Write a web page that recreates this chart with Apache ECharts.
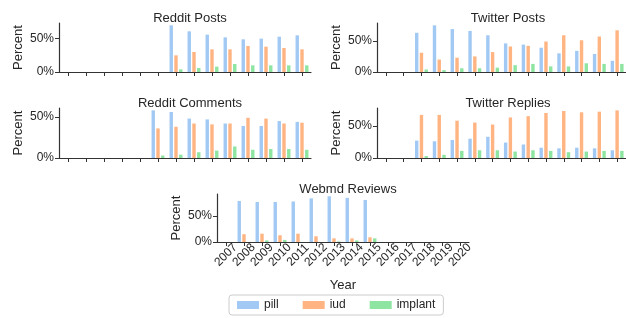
<!DOCTYPE html>
<html>
<head>
<meta charset="utf-8">
<script src="https://cdn.jsdelivr.net/npm/echarts@6/dist/echarts.min.js"></script>
<style>
  html, body { margin: 0; padding: 0; background: #fff; }
  #chart { width: 626px; height: 318px; }
</style>
</head>
<body>
<div id="chart"></div>
<script>
const years = ["2007", "2008", "2009", "2010", "2011", "2012", "2013", "2014", "2015", "2016", "2017", "2018", "2019", "2020"];
const methods = ["pill", "iud", "implant"];
const yTicks = [0, 50];

const redditPostsPill = [null, null, null, null, null, null, 70, 61, 56, 52, 49, 50, 53, 55];
const redditPostsIud = [null, null, null, null, null, null, 25, 30, 34, 34, 39, 38, 36, 34];
const redditPostsImplant = [null, null, null, null, null, null, 4, 6, 8, 12, 10, 10, 10, 10];

const twitterPostsPill = [null, null, 63, 75, 69, 66, 59, 46, 44, 39, 30, 34, 29, 18];
const twitterPostsIud = [null, null, 31, 20, 23, 25, 32, 41, 42, 49, 59, 51, 57, 67];
const twitterPostsImplant = [null, null, 4, 3, 6, 6, 7, 11, 13, 9, 9, 14, 13, 13];

const redditCommentsPill = [null, null, null, null, null, 58, 56, 48, 47, 42, 39, 39, 45, 44];
const redditCommentsIud = [null, null, null, null, null, 36, 38, 42, 41, 42, 49, 48, 42, 43];
const redditCommentsImplant = [null, null, null, null, null, 3, 4, 7, 9, 14, 10, 11, 11, 10];

const twitterRepliesPill = [null, null, 27, 26, 28, 30, 33, 24, 21, 16, 15, 16, 15, 12];
const twitterRepliesIud = [null, null, 67, 67, 58, 55, 52, 63, 65, 70, 73, 71, 72, 74];
const twitterRepliesImplant = [null, null, 3, 5, 11, 12, 12, 10, 12, 11, 9, 10, 11, 11];

const webmdPill = [null, 79, 77, 77, 78, 84, 88, 85, 81, null, null, null, null, null];
const webmdIud = [null, 15, 16, 13, 16, 11, 7, 7, 9, null, null, null, null, null];
const webmdImplant = [null, 0, 3, 4, 0, 0, 1, 3, 7, null, null, null, null, null];

const colors = ["#a1c9f4", "#ffb482", "#8de5a1"];
const textColor = "#262626";
const font = "Liberation Sans, Arial, sans-serif";

const panels = [
    { title: "Reddit Posts", left: 59, top: 23, height: 49, data: [redditPostsPill, redditPostsIud, redditPostsImplant] },
    { title: "Twitter Posts", left: 377, top: 23, height: 49, data: [twitterPostsPill, twitterPostsIud, twitterPostsImplant] },
    { title: "Reddit Comments", left: 59, top: 108, height: 50, data: [redditCommentsPill, redditCommentsIud, redditCommentsImplant] },
    { title: "Twitter Replies", left: 377, top: 108, height: 50, data: [twitterRepliesPill, twitterRepliesIud, twitterRepliesImplant] },
    { title: "Webmd Reviews", left: 217, top: 194, height: 48, data: [webmdPill, webmdIud, webmdImplant] },
];
const gridWidth = 252;

const chart = echarts.init(document.getElementById("chart"));

const axisLine = { show: true, lineStyle: { color: "#333", width: 1.2 } };
const axisTick = { show: true, inside: false, length: 4, lineStyle: { color: "#333", width: 1 } };

let option = {
    animation: false,
    color: colors,
    textStyle: { fontFamily: font, color: textColor },
    title: panels.map(p => ({
        text: p.title,
        left: p.left + gridWidth / 2,
        top: p.top - 16,
        textAlign: "center",
        textStyle: { fontSize: 13, fontWeight: "normal", color: textColor, fontFamily: font },
    })),
    legend: {
        data: methods,
        left: 229,
        top: 295,
        itemWidth: 22,
        itemHeight: 8,
        itemGap: 24,
        icon: "rect",
        padding: [4, 8],
        borderColor: "#ccc",
        borderWidth: 1,
        borderRadius: 3,
        textStyle: { fontSize: 12, color: textColor, fontFamily: font },
    },
    grid: panels.map(p => ({ left: p.left, top: p.top, width: gridWidth, height: p.height })),
    xAxis: panels.map((p, i) => ({
        type: "category",
        gridIndex: i,
        data: years,
        boundaryGap: true,
        axisLine: axisLine,
        axisTick: Object.assign({ alignWithLabel: true }, axisTick),
        axisLabel: {
            show: i === 4,
            rotate: 45,
            interval: 0,
            align: "center",
            verticalAlign: "middle",
            fontSize: 12,
            color: textColor,
            fontFamily: font,
            margin: 13,
        },
        name: i === 4 ? "Year" : "",
        nameLocation: "middle",
        nameGap: 37,
        nameTextStyle: { fontSize: 13, color: textColor, fontFamily: font },
        splitLine: { show: false },
    })),
    yAxis: panels.map((p, i) => ({
        type: "value",
        gridIndex: i,
        min: 0,
        max: v => v.max * 1.05,
        axisLine: axisLine,
        axisTick: Object.assign({ customValues: yTicks }, axisTick),
        axisLabel: {
            customValues: yTicks,
            formatter: "{value}%",
            fontSize: 12,
            color: textColor,
            fontFamily: font,
            margin: 5,
        },
        name: "Percent",
        nameLocation: "middle",
        nameRotate: 90,
        nameGap: 34,
        nameTextStyle: { fontSize: 13, color: textColor, fontFamily: font },
        splitLine: { show: false },
    })),
    series: [],
};

panels.forEach((p, i) => {
    methods.forEach((m, k) => {
        option.series.push({
            type: "bar",
            name: m,
            xAxisIndex: i,
            yAxisIndex: i,
            data: p.data[k],
            barWidth: 3.4,
            barGap: "40%",
            itemStyle: { color: colors[k] },
        });
    });
});

chart.setOption(option);
</script>
</body>
</html>
